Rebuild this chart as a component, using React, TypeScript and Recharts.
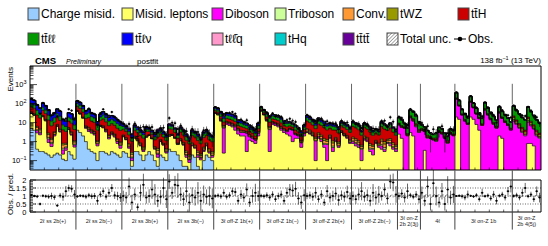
import React from 'react';
import { ComposedChart, Area, Scatter, ErrorBar, XAxis, YAxis, ReferenceLine, ReferenceArea } from 'recharts';

const FONT = '"Liberation Sans", Arial, Helvetica, sans-serif';

const regionLabels = [
  '2ℓ ss 2b(+)', '2ℓ ss 2b(−)', '2ℓ ss 3b(+)', '2ℓ ss 3b(−)',
  '3ℓ off-Z 1b(+)', '3ℓ off-Z 1b(−)', '3ℓ off-Z 2b(+)', '3ℓ off-Z 2b(−)',
  '3ℓ on-Z\n2b 2(3j)', '4ℓ', '3ℓ on-Z 1b', '3ℓ on-Z\n2b 4(5j)',
];
const regionBins = [16, 16, 16, 16, 16, 16, 16, 16, 8, 12, 20, 10];
const relUnc = [0.05, 0.06, 0.1, 0.1, 0.06, 0.07, 0.08, 0.09, 0.1, 0.12, 0.05, 0.07];

// expected events per bin, one line per region
const chargeMisid = [
  5, 4, 0.4, 0.3, 0.3, 0.25, 0.2, 0.15, 0.2, 0.25, 0.2, 0.12, 0.1, 0.3, 0.2, 0.12,
  4, 3, 2, 1, 0.4, 0.3, 0.25, 0.1, 0.3, 0.3, 0.25, 0.2, 0.3, 0.25, 0.2, 0.15,
  0.3, 0.25, 0.15, 0.05, 0.3, 0.3, 0.2, 0.1, 0.2, 0.3, 0.2, 0.1, 0.05, 0.2, 0.15, 0.1,
  0.4, 0.3, 0.3, 0.2, 0.1, 0.05, 0.05, 0.03, 0.2, 0.15, 0.05, 0.03, 0.1, 0.2, 0.15, 0.1,
  0, 0, 0, 0, 0, 0, 0, 0, 0, 0, 0, 0, 0, 0, 0, 0,
  0, 0, 0, 0, 0, 0, 0, 0, 0, 0, 0, 0, 0, 0, 0, 0,
  0, 0, 0, 0, 0, 0, 0, 0, 0, 0, 0, 0, 0, 0, 0, 0,
  0, 0, 0, 0, 0, 0, 0, 0, 0, 0, 0, 0, 0, 0, 0, 0,
  0, 0, 0, 0, 0, 0, 0, 0,
  0, 0, 0, 0, 0, 0, 0, 0, 0, 0, 0, 0,
  0, 0, 0, 0, 0, 0, 0, 0, 0, 0, 0, 0, 0, 0, 0, 0, 0, 0, 0, 0,
  0, 0, 0, 0, 0, 0, 0, 0, 0, 0,
];
const misidLeptons = [
  25, 20, 2.5, 2, 20, 12, 0.7, 0.4, 1.8, 6, 3, 0.1, 0.25, 4, 2, 0.4,
  35, 25, 15, 4, 3, 2.5, 2, 0.5, 6, 5, 3, 1.2, 2, 1.5, 0.6, 0.3,
  1.5, 1, 0.3, 0.05, 1.2, 0.8, 0.4, 0.2, 1.5, 1.8, 1.2, 0.3, 0.1, 0.8, 0.5, 0.15,
  1.5, 1.8, 1.2, 0.5, 1, 0.6, 0.1, 0.05, 0.4, 0.3, 0.1, 0.08, 0.2, 0.4, 0.1, 0.05,
  30, 25, 12, 0.25, 8, 7, 6, 4, 2.5, 2, 2, 0.3, 1.2, 1, 0.8, 2,
  40, 25, 12, 0.3, 8, 7, 6, 4, 3, 2.5, 2, 1, 1.5, 1.5, 0.5, 2,
  3, 2.5, 2, 0.1, 1.5, 1, 0.5, 0.1, 1.5, 0.3, 1, 0.5, 3, 2, 1.5, 0.8,
  0.8, 0.6, 0.5, 0.1, 1.2, 1, 0.3, 0.2, 0.8, 0.5, 0.4, 0.3, 0.8, 0.6, 0.4, 0.3,
  2.5, 1.5, 0.03, 0.02, 3, 2, 0.03, 0.02,
  0.02, 0.35, 0.02, 0.02, 0.02, 0.02, 0.03, 0.02, 0.02, 0.02, 0.03, 0.02,
  20, 15, 0.03, 0.02, 0.02, 20, 15, 8, 4, 0.03, 0.02, 0.03, 0.02, 0.02, 0.03, 2, 1.5, 0.03, 0.02, 0.02,
  0.02, 0.02, 0.02, 0.02, 0.02, 0.8, 0.8, 0.6, 0.02, 0.02,
];
const diboson = [
  1.5, 1.3, 0.9, 0.6, 0.9, 0.7, 0.5, 0.24, 0.33, 0.5, 0.37, 0.15, 0.12, 0.31, 0.28, 0.15,
  1.7, 1.4, 0.95, 0.6, 0.76, 0.47, 0.4, 0.17, 0.35, 0.52, 0.4, 0.28, 0.34, 0.27, 0.21, 0.17,
  0.12, 0.1, 0.08, 0.04, 0.11, 0.09, 0.07, 0.06, 0.08, 0.06, 0.05, 0.04, 0.07, 0.08, 0.05, 0.04,
  0.12, 0.1, 0.07, 0.035, 0.09, 0.065, 0.043, 0.03, 0.066, 0.053, 0.043, 0.028, 0.056, 0.066, 0.041, 0.035,
  2, 2, 1.5, 5, 1.5, 1.5, 1.2, 2, 1.5, 1, 1, 2.5, 0.6, 0.5, 0.4, 0.8,
  2, 2, 1.5, 4, 1.5, 1.5, 1.2, 1, 1, 0.8, 2.5, 3, 0.8, 0.5, 0.4, 0.6,
  0.3, 0.3, 0.2, 1, 0.3, 0.3, 0.2, 0.6, 0.2, 0.2, 0.2, 0.1, 0.2, 0.2, 0.2, 0.1,
  0.2, 0.2, 0.15, 0.3, 0.2, 0.2, 0.1, 0.2, 0.1, 0.1, 0.2, 0.1, 0.1, 0.2, 0.1, 0.1,
  5, 4, 5, 2, 15, 10, 6, 3,
  4, 3, 1.5, 1.5, 1.2, 1, 3, 2.5, 1.5, 0.8, 2.5, 2,
  150, 60, 25, 12, 8, 100, 45, 20, 12, 7, 45, 25, 14, 8, 5, 30, 15, 10, 7, 4,
  12, 8, 5, 3, 2, 10, 6, 4, 2, 1.5,
];
const triboson = [
  0.75, 0.63, 0.44, 0.29, 0.45, 0.34, 0.25, 0.12, 0.17, 0.25, 0.19, 0.08, 0.06, 0.16, 0.14, 0.07,
  0.55, 0.46, 0.32, 0.2, 0.25, 0.16, 0.14, 0.06, 0.12, 0.17, 0.13, 0.09, 0.11, 0.09, 0.07, 0.06,
  0.04, 0.03, 0.03, 0.015, 0.04, 0.03, 0.02, 0.02, 0.03, 0.02, 0.015, 0.013, 0.024, 0.025, 0.017, 0.014,
  0.04, 0.035, 0.023, 0.012, 0.03, 0.022, 0.014, 0.01, 0.022, 0.018, 0.014, 0.01, 0.019, 0.022, 0.014, 0.012,
  0.76, 0.66, 0.53, 0.4, 0.51, 0.49, 0.46, 0.38, 0.22, 0.22, 0.18, 0.14, 0.12, 0.09, 0.06, 0.14,
  0.56, 0.46, 0.43, 0.41, 0.41, 0.39, 0.36, 0.3, 0.2, 0.17, 0.15, 0.12, 0.11, 0.08, 0.06, 0.11,
  0.22, 0.17, 0.13, 0.09, 0.16, 0.14, 0.11, 0.08, 0.08, 0.09, 0.07, 0.05, 0.09, 0.08, 0.06, 0.05,
  0.11, 0.09, 0.07, 0.04, 0.09, 0.07, 0.06, 0.04, 0.04, 0.03, 0.11, 0.09, 0.06, 0.09, 0.06, 0.04,
  0.36, 0.27, 0.13, 0.1, 0.92, 0.81, 0.52, 0.24,
  0.16, 0.12, 0.1, 0.06, 0.05, 0.08, 0.12, 0.1, 0.06, 0.05, 0.1, 0.08,
  6.5, 2.2, 0.77, 0.54, 0.32, 3.8, 1.4, 0.92, 0.51, 0.32, 2.1, 1.1, 0.63, 0.43, 0.26, 1.1, 0.69, 0.49, 0.33, 0.22,
  1.3, 0.68, 0.46, 0.32, 0.24, 1.1, 0.62, 0.38, 0.24, 0.16,
];
const conversions = [
  2.2, 1.9, 1.3, 0.9, 1.4, 1, 0.7, 0.36, 0.5, 0.7, 0.55, 0.22, 0.18, 0.46, 0.42, 0.22,
  1.7, 1.4, 0.95, 0.6, 0.76, 0.47, 0.4, 0.17, 0.35, 0.52, 0.4, 0.28, 0.34, 0.27, 0.21, 0.17,
  0.16, 0.14, 0.11, 0.06, 0.15, 0.12, 0.09, 0.07, 0.11, 0.08, 0.06, 0.05, 0.1, 0.1, 0.07, 0.06,
  0.16, 0.14, 0.09, 0.05, 0.12, 0.09, 0.06, 0.04, 0.09, 0.07, 0.06, 0.04, 0.07, 0.09, 0.06, 0.05,
  1.5, 1.3, 1.1, 0.8, 1, 0.98, 0.91, 0.76, 0.44, 0.44, 0.36, 0.29, 0.25, 0.18, 0.11, 0.29,
  1.1, 0.92, 0.86, 0.83, 0.82, 0.78, 0.71, 0.6, 0.4, 0.35, 0.3, 0.24, 0.23, 0.16, 0.12, 0.22,
  0.65, 0.52, 0.38, 0.27, 0.49, 0.41, 0.34, 0.25, 0.25, 0.26, 0.2, 0.16, 0.26, 0.23, 0.19, 0.15,
  0.33, 0.28, 0.22, 0.11, 0.26, 0.2, 0.17, 0.11, 0.12, 0.1, 0.34, 0.26, 0.18, 0.28, 0.17, 0.11,
  0.36, 0.27, 0.13, 0.1, 0.92, 0.81, 0.52, 0.24,
  0.08, 0.06, 0.05, 0.03, 0.025, 0.04, 0.06, 0.05, 0.03, 0.023, 0.05, 0.04,
  6.5, 2.2, 0.77, 0.54, 0.32, 3.8, 1.4, 0.92, 0.51, 0.32, 2.1, 1.1, 0.63, 0.43, 0.26, 1.1, 0.69, 0.49, 0.33, 0.22,
  1.3, 0.68, 0.46, 0.32, 0.24, 1.1, 0.62, 0.38, 0.24, 0.16,
];
const tWZ = [
  1.5, 1.3, 0.9, 0.6, 0.9, 0.7, 0.5, 0.24, 0.33, 0.5, 0.37, 0.15, 0.12, 0.31, 0.28, 0.15,
  1.1, 0.92, 0.63, 0.4, 0.5, 0.32, 0.27, 0.11, 0.24, 0.35, 0.27, 0.19, 0.23, 0.18, 0.14, 0.11,
  0.16, 0.14, 0.11, 0.06, 0.15, 0.12, 0.09, 0.07, 0.11, 0.08, 0.06, 0.05, 0.1, 0.1, 0.07, 0.06,
  0.16, 0.14, 0.09, 0.05, 0.12, 0.09, 0.06, 0.04, 0.09, 0.07, 0.06, 0.04, 0.07, 0.09, 0.06, 0.05,
  1.1, 1, 0.8, 0.6, 0.77, 0.74, 0.68, 0.57, 0.33, 0.33, 0.27, 0.22, 0.19, 0.14, 0.08, 0.22,
  0.84, 0.69, 0.65, 0.62, 0.62, 0.59, 0.53, 0.45, 0.3, 0.26, 0.23, 0.18, 0.17, 0.12, 0.09, 0.16,
  0.65, 0.52, 0.38, 0.27, 0.49, 0.41, 0.34, 0.25, 0.25, 0.26, 0.2, 0.16, 0.26, 0.23, 0.19, 0.15,
  0.33, 0.28, 0.22, 0.11, 0.26, 0.2, 0.17, 0.11, 0.12, 0.1, 0.34, 0.26, 0.18, 0.28, 0.17, 0.11,
  0.5, 0.4, 0.3, 0.2, 1.5, 1, 0.7, 0.4,
  0.31, 0.23, 0.2, 0.12, 0.1, 0.15, 0.23, 0.19, 0.12, 0.09, 0.19, 0.15,
  8, 3, 1.5, 1, 0.5, 5, 2.5, 1.5, 1, 0.5, 3, 1.5, 1, 0.6, 0.4, 2, 1, 0.7, 0.5, 0.3,
  4, 2.5, 1.5, 1, 0.8, 3.5, 2, 1.2, 0.8, 0.5,
];
const ttH = [
  33, 28, 19, 13, 20, 15, 11, 5.3, 7.2, 11, 8.4, 3.4, 2.6, 6.6, 6, 3.2,
  28, 23, 16, 10, 13, 7.8, 6.6, 2.9, 5.9, 9, 6.6, 4.7, 5.7, 4.6, 3.6, 2.9,
  2.2, 1.8, 1.5, 0.77, 2, 1.5, 1.2, 1, 1.4, 1.1, 0.84, 0.7, 1.3, 1.3, 0.91, 0.7,
  2.4, 2, 1.3, 0.68, 1.75, 1.26, 0.84, 0.57, 1.26, 1.05, 0.84, 0.55, 1.12, 1.26, 0.84, 0.69,
  7.7, 6.4, 5.2, 3.9, 5, 4.8, 4.5, 3.7, 2.2, 2.2, 1.75, 1.4, 1.2, 0.9, 0.55, 1.4,
  6.3, 5.2, 4.8, 4.6, 4.6, 4.3, 4, 3.4, 2.2, 2, 1.7, 1.3, 1.3, 0.9, 0.7, 1.2,
  7.6, 6, 4.5, 3.1, 5.7, 4.8, 4, 2.9, 2.9, 3, 2.4, 1.9, 3.1, 2.7, 2.2, 1.8,
  4.6, 3.9, 3.1, 1.5, 3.6, 2.9, 2.4, 1.5, 1.7, 1.4, 4.8, 3.6, 2.6, 3.9, 2.3, 1.5,
  0.72, 0.55, 0.25, 0.21, 1.8, 1.6, 1, 0.49,
  0.47, 0.35, 0.29, 0.17, 0.15, 0.23, 0.35, 0.29, 0.17, 0.14, 0.29, 0.23,
  11, 3.6, 1.3, 0.9, 0.53, 6.3, 2.4, 1.5, 0.85, 0.53, 3.5, 1.8, 1.1, 0.72, 0.43, 1.9, 1.2, 0.82, 0.55, 0.36,
  3.8, 2, 1.4, 0.95, 0.72, 3.3, 1.9, 1.2, 0.71, 0.47,
];
const ttll = [
  35, 29, 20, 13, 21, 16, 11, 5.5, 7.6, 11, 8.5, 3.5, 2.8, 7.1, 6.4, 3.3,
  31, 26, 18, 11, 14, 8.8, 7.6, 3.2, 6.6, 9.7, 7.5, 5.2, 6.4, 5.1, 4, 3.2,
  1.8, 1.5, 1.2, 0.64, 1.7, 1.3, 0.97, 0.81, 1.2, 0.86, 0.68, 0.57, 1.1, 1.1, 0.74, 0.6,
  2.1, 1.8, 1.2, 0.6, 1.5, 1.1, 0.74, 0.5, 1.1, 0.92, 0.74, 0.49, 0.96, 1.1, 0.72, 0.61,
  11, 9.9, 8, 5.9, 7.7, 7.4, 6.8, 5.7, 3.3, 3.3, 2.7, 2.2, 1.9, 1.4, 0.84, 2.2,
  9.2, 7.6, 7.1, 6.8, 6.8, 6.4, 5.9, 5, 3.3, 2.9, 2.5, 2, 1.9, 1.3, 1, 1.8,
  6.1, 4.8, 3.6, 2.5, 4.5, 3.8, 3.2, 2.3, 2.3, 2.4, 1.9, 1.5, 2.5, 2.2, 1.8, 1.4,
  3.3, 2.8, 2.2, 1.1, 2.6, 2, 1.7, 1.1, 1.2, 1, 3.4, 2.6, 1.8, 2.8, 1.7, 1.1,
  8.4, 6.4, 2.9, 2.5, 21, 19, 12, 5.7,
  2.3, 1.7, 1.5, 0.87, 0.75, 1.1, 1.7, 1.4, 0.87, 0.69, 1.4, 1.1,
  156, 52, 18, 13, 7.6, 90, 34, 22, 12, 7.6, 50, 26, 15, 10, 6.2, 27, 17, 12, 7.9, 5.2,
  50, 27, 18, 12, 9.4, 43, 24, 15, 9.3, 6.1,
];
const ttlnu = [
  70, 59, 41, 27, 42, 31, 22, 11, 15, 22, 17, 7, 5.6, 14, 13, 6.7,
  38, 32, 22, 14, 18, 11, 9.4, 4, 8.3, 12, 9.4, 6.6, 8, 6.4, 5, 4,
  1.8, 1.5, 1.2, 0.64, 1.7, 1.3, 0.97, 0.81, 1.2, 0.86, 0.68, 0.57, 1.1, 1.1, 0.74, 0.6,
  1.3, 1.1, 0.72, 0.37, 0.94, 0.7, 0.46, 0.31, 0.7, 0.57, 0.46, 0.3, 0.59, 0.7, 0.44, 0.38,
  9.5, 8.3, 6.6, 4.9, 6.4, 6.1, 5.7, 4.8, 2.8, 2.8, 2.3, 1.8, 1.6, 1.1, 0.7, 1.8,
  4.8, 3.9, 3.7, 3.5, 3.5, 3.3, 3, 2.6, 1.7, 1.5, 1.3, 1, 0.97, 0.68, 0.53, 0.92,
  4.8, 3.8, 2.8, 2, 3.6, 3, 2.5, 1.8, 1.8, 1.9, 1.5, 1.2, 1.9, 1.7, 1.4, 1.1,
  1.3, 1.1, 0.88, 0.43, 1, 0.82, 0.67, 0.43, 0.49, 0.41, 1.4, 1, 0.73, 1.1, 0.66, 0.43,
  0.6, 0.46, 0.21, 0.18, 1.5, 1.4, 0.87, 0.41,
  0.16, 0.12, 0.1, 0.06, 0.05, 0.08, 0.12, 0.1, 0.06, 0.05, 0.1, 0.08,
  11, 3.6, 1.3, 0.9, 0.53, 6.3, 2.4, 1.5, 0.85, 0.53, 3.5, 1.8, 1.1, 0.72, 0.43, 1.9, 1.2, 0.82, 0.55, 0.36,
  2.5, 1.4, 0.93, 0.63, 0.48, 2.2, 1.2, 0.77, 0.48, 0.31,
];
const tllq = [
  0.75, 0.63, 0.44, 0.29, 0.45, 0.34, 0.25, 0.12, 0.17, 0.25, 0.19, 0.08, 0.06, 0.16, 0.14, 0.07,
  0.55, 0.46, 0.32, 0.2, 0.25, 0.16, 0.14, 0.06, 0.12, 0.17, 0.13, 0.09, 0.11, 0.09, 0.07, 0.06,
  0.04, 0.03, 0.03, 0.015, 0.04, 0.03, 0.02, 0.02, 0.03, 0.02, 0.015, 0.013, 0.024, 0.025, 0.017, 0.014,
  0.04, 0.035, 0.023, 0.012, 0.03, 0.022, 0.014, 0.01, 0.022, 0.018, 0.014, 0.01, 0.019, 0.022, 0.014, 0.012,
  1.9, 1.7, 1.3, 1, 1.3, 1.2, 1.1, 0.95, 0.55, 0.55, 0.45, 0.36, 0.31, 0.23, 0.14, 0.36,
  1.7, 1.4, 1.3, 1.2, 1.2, 1.2, 1.1, 0.9, 0.6, 0.52, 0.45, 0.36, 0.34, 0.24, 0.19, 0.32,
  0.43, 0.34, 0.26, 0.18, 0.32, 0.27, 0.23, 0.17, 0.17, 0.17, 0.14, 0.11, 0.18, 0.16, 0.13, 0.1,
  0.22, 0.18, 0.15, 0.07, 0.17, 0.14, 0.11, 0.07, 0.08, 0.07, 0.23, 0.17, 0.12, 0.18, 0.11, 0.07,
  0.96, 0.73, 0.34, 0.28, 2.4, 2.2, 1.4, 0.65,
  0.16, 0.12, 0.1, 0.06, 0.05, 0.08, 0.12, 0.1, 0.06, 0.05, 0.1, 0.08,
  17, 5.8, 2, 1.4, 0.84, 10, 3.8, 2.4, 1.4, 0.84, 5.6, 2.8, 1.7, 1.2, 0.69, 3, 1.8, 1.3, 0.88, 0.58,
  2.5, 1.4, 0.93, 0.63, 0.48, 2.2, 1.2, 0.77, 0.48, 0.31,
];
const tHq = [
  0.75, 0.63, 0.44, 0.29, 0.45, 0.34, 0.25, 0.12, 0.17, 0.25, 0.19, 0.08, 0.06, 0.16, 0.14, 0.07,
  0.55, 0.46, 0.32, 0.2, 0.25, 0.16, 0.14, 0.06, 0.12, 0.17, 0.13, 0.09, 0.11, 0.09, 0.07, 0.06,
  0.04, 0.03, 0.03, 0.015, 0.04, 0.03, 0.02, 0.02, 0.03, 0.02, 0.015, 0.013, 0.024, 0.025, 0.017, 0.014,
  0.04, 0.035, 0.023, 0.012, 0.03, 0.022, 0.014, 0.01, 0.022, 0.018, 0.014, 0.01, 0.019, 0.022, 0.014, 0.012,
  0.38, 0.33, 0.27, 0.2, 0.26, 0.25, 0.23, 0.19, 0.11, 0.11, 0.09, 0.07, 0.06, 0.05, 0.03, 0.07,
  0.28, 0.23, 0.22, 0.21, 0.21, 0.2, 0.18, 0.15, 0.1, 0.09, 0.08, 0.06, 0.06, 0.04, 0.03, 0.05,
  0.22, 0.17, 0.13, 0.09, 0.16, 0.14, 0.11, 0.08, 0.08, 0.09, 0.07, 0.05, 0.09, 0.08, 0.06, 0.05,
  0.11, 0.09, 0.07, 0.04, 0.09, 0.07, 0.06, 0.04, 0.04, 0.03, 0.11, 0.09, 0.06, 0.09, 0.06, 0.04,
  0.24, 0.18, 0.08, 0.07, 0.61, 0.54, 0.35, 0.16,
  0.08, 0.06, 0.05, 0.03, 0.025, 0.04, 0.06, 0.05, 0.03, 0.023, 0.05, 0.04,
  4.3, 1.4, 0.51, 0.36, 0.21, 2.5, 0.95, 0.61, 0.34, 0.21, 1.4, 0.71, 0.42, 0.29, 0.17, 0.76, 0.46, 0.33, 0.22, 0.14,
  0.64, 0.34, 0.23, 0.16, 0.12, 0.56, 0.31, 0.19, 0.12, 0.08,
];
const tttt = [
  2.2, 1.9, 1.3, 0.9, 1.4, 1, 0.7, 0.36, 0.5, 0.7, 0.55, 0.22, 0.18, 0.46, 0.42, 0.22,
  1.7, 1.4, 0.95, 0.6, 0.76, 0.47, 0.4, 0.17, 0.35, 0.52, 0.4, 0.28, 0.34, 0.27, 0.21, 0.17,
  0.82, 0.68, 0.56, 0.29, 0.75, 0.59, 0.44, 0.37, 0.53, 0.39, 0.31, 0.26, 0.49, 0.5, 0.34, 0.28,
  0.81, 0.69, 0.45, 0.23, 0.59, 0.44, 0.29, 0.19, 0.44, 0.36, 0.29, 0.19, 0.37, 0.44, 0.28, 0.24,
  0.76, 0.66, 0.53, 0.4, 0.51, 0.49, 0.46, 0.38, 0.22, 0.22, 0.18, 0.14, 0.12, 0.09, 0.06, 0.14,
  0.56, 0.46, 0.43, 0.41, 0.41, 0.39, 0.36, 0.3, 0.2, 0.17, 0.15, 0.12, 0.11, 0.08, 0.06, 0.11,
  1.1, 0.86, 0.64, 0.45, 0.81, 0.69, 0.57, 0.42, 0.42, 0.43, 0.34, 0.27, 0.44, 0.39, 0.32, 0.26,
  0.66, 0.55, 0.44, 0.22, 0.52, 0.41, 0.34, 0.22, 0.25, 0.2, 0.68, 0.52, 0.37, 0.55, 0.33, 0.22,
  0.36, 0.27, 0.13, 0.1, 0.92, 0.81, 0.52, 0.24,
  0.16, 0.12, 0.1, 0.06, 0.05, 0.08, 0.12, 0.1, 0.06, 0.05, 0.1, 0.08,
  4.3, 1.4, 0.51, 0.36, 0.21, 2.5, 0.95, 0.61, 0.34, 0.21, 1.4, 0.71, 0.42, 0.29, 0.17, 0.76, 0.46, 0.33, 0.22, 0.14,
  1.9, 1, 0.7, 0.47, 0.36, 1.7, 0.94, 0.58, 0.36, 0.23,
];

// observed / predicted
const ratio = [
  1.05, 1.0, 0.97, 0.5, 1.02, 0.98, 0.96, 1.0, 0.92, 0.4, 1.03, 0.95, 1.3, 1.5, 1.45, 1.1,
  0.97, 1.02, 1.0, 0.95, 1.05, 0.98, 1.0, 0.7, 1.1, 1.3, 0.95, 1.2, 1.5, 1.05, 1.0, 0.9,
  1.0, 0.9, 1.6, 0.6, 1.1, 0.3, 1.2, 1.7, 0.9, 1.0, 1.4, 1.1, 0.7, 0.95, 1.5, 0.8,
  1.9, 1.2, 1.7, 1.65, 1.1, 0.8, 1.3, 0.6, 1.05, 0.9, 1.2, 0.7, 1.1, 0.95, 1.0, 0.85,
  1.0, 1.03, 0.97, 1.2, 0.95, 1.05, 1.3, 1.25, 0.7, 1.1, 0.9, 1.4, 0.6, 1.0, 1.2, 1.0,
  1.02, 0.98, 1.05, 0.9, 1.1, 0.8, 1.0, 1.1, 0.7, 1.2, 1.4, 1.35, 1.45, 0.85, 0.6, 1.05,
  1.0, 1.05, 0.95, 1.2, 0.8, 1.1, 0.6, 1.3, 0.9, 1.0, 1.15, 0.75, 1.05, 0.95, 1.25, 0.85,
  1.0, 0.8, 1.1, 1.3, 0.95, 1.05, 0.7, 1.2, 0.9, 1.1, 1.0, 1.4, 0.85, 1.9, 1.85, 1.1,
  1.0, 1.15, 0.9, 1.3, 1.05, 0.95, 1.1, 0.8,
  1.2, 0.7, 1.6, 0.5, 1.8, 1.0, 0.6, 1.3, 0.5, 1.4, 0.9, 1.1,
  1.0, 1.02, 0.98, 0.9, 1.1, 1.01, 0.97, 1.05, 0.8, 1.2, 0.99, 1.03, 0.85, 1.1, 0.7, 1.02, 1.1, 0.9, 1.3, 1.6,
  1.0, 1.05, 0.9, 1.2, 1.5, 0.98, 1.1, 0.8, 1.3, 0.9,
];

const stack = [
  { key: 'chargeMisid', name: 'Charge misid.', color: '#99ccff', values: chargeMisid },
  { key: 'misidLeptons', name: 'Misid. leptons', color: '#ffff66', values: misidLeptons },
  { key: 'diboson', name: 'Diboson', color: '#ff00ff', values: diboson },
  { key: 'triboson', name: 'Triboson', color: '#ccff99', values: triboson },
  { key: 'conversions', name: 'Conv.', color: '#ff9933', values: conversions },
  { key: 'tWZ', name: 'tWZ', color: '#999900', values: tWZ },
  { key: 'ttH', name: 'tt\u0304H', color: '#cc0000', values: ttH },
  { key: 'ttll', name: 'tt\u0304\u2113\u2113', color: '#009900', values: ttll },
  { key: 'ttlnu', name: 'tt\u0304\u2113\u03bd', color: '#0000ff', values: ttlnu },
  { key: 'tllq', name: 't\u2113\u2113\u0304q', color: '#ff99cc', values: tllq },
  { key: 'tHq', name: 'tHq', color: '#00cccc', values: tHq },
  { key: 'tttt', name: 'tt\u0304tt\u0304', color: '#660099', values: tttt },
];

const Y_MIN = 0.032;
const Y_MAX = 9500;
const nBins = regionBins.reduce((a, b) => a + b, 0);
const edges = regionBins.reduce((acc, n) => [...acc, acc[acc.length - 1] + n], [0]);
const innerEdges = edges.slice(1, -1);
const regionCenters = regionBins.map((n, r) => edges[r] + n / 2);
const regionOf = regionBins.flatMap((n, r) => Array(n).fill(r) as number[]);

// stacked table, one extra row so the last step closes
const rows = Array.from({ length: nBins + 1 }, (_, i) => {
  const b = Math.min(i, nBins - 1);
  const row: any = { x: i };
  let c = 1e-4;
  stack.forEach((s) => {
    const v = s.values[b] ?? 0;
    row[s.key] = [c, c + v];
    c += v;
  });
  const u = relUnc[regionOf[b]];
  row.total = c;
  row.unc = [c * (1 - u), c * (1 + u)];
  row.ratioUnc = [1 - u, 1 + u];
  return row;
});

const points = ratio.map((r, i) => {
  const pred = rows[i].total;
  const obs = r * pred;
  const e = Math.sqrt(Math.max(obs, 1));
  return { x: i + 0.5, obs, obsErr: [Math.min(e, obs * 0.9), e], y: r, err: e / pred };
});

const eventTicks: number[] = [];
for (let d = -2; d <= 3; d++) {
  for (let m = 1; m <= 9; m++) {
    const v = m * Math.pow(10, d);
    if (v >= Y_MIN && v <= Y_MAX) eventTicks.push(v);
  }
}
const ratioTicks = Array.from({ length: 21 }, (_, k) => k / 10);
const binTicks = Array.from({ length: Math.floor(nBins / 5) }, (_, k) => (k + 1) * 5);

const EventTick = (props: any) => {
  const { x, y, payload } = props;
  const ax = x + 4;
  const lg = Math.log10(payload.value);
  const e = Math.round(lg);
  const major = Math.abs(lg - e) < 1e-6;
  return (
    <g>
      <line x1={ax} x2={ax + (major ? 7 : 3.5)} y1={y} y2={y} stroke="#000" strokeWidth={0.7} />
      {major && (
        <text x={ax - 3.5} y={y + 2.6} textAnchor="end" fontSize={7.5} fontFamily={FONT} fill="#000">
          {e === 0 ? '1' : e === 1 ? '10' : (
            <>10<tspan dy={-3} fontSize={5.5}>{String(e).replace('-', '\u2212')}</tspan></>
          )}
        </text>
      )}
    </g>
  );
};

const RatioTick = (props: any) => {
  const { x, y, payload } = props;
  const ax = x + 4;
  const v = payload.value;
  const major = Math.abs(v * 2 - Math.round(v * 2)) < 1e-6;
  return (
    <g>
      <line x1={ax} x2={ax + (major ? 6 : 3)} y1={y} y2={y} stroke="#000" strokeWidth={0.7} />
      {major && (
        <text x={ax - 3.5} y={y + 2.7} textAnchor="end" fontSize={7.5} fontFamily={FONT} fill="#000">
          {String(v)}
        </text>
      )}
    </g>
  );
};

const BinTick = (props: any) => (
  <line x1={props.x} x2={props.x} y1={props.y} y2={props.y - 2.5} stroke="#000" strokeWidth={0.6} />
);

const RegionTick = (props: any) => {
  const { x, y, payload } = props;
  const idx = regionCenters.findIndex((c) => Math.abs(c - payload.value) < 1e-6);
  const lines = (regionLabels[idx] ?? '').split('\n');
  return (
    <text x={x} y={lines.length > 1 ? y + 6.5 : y + 10} textAnchor="middle" fontSize={5.5} fontFamily={FONT} fill="#222">
      {lines.map((l, k) => (
        <tspan key={k} x={x} dy={k ? 6.5 : 0}>{l}</tspan>
      ))}
    </text>
  );
};

const ObsDot = (props: any) => {
  const { cx, cy } = props;
  if (!isFinite(cx) || !isFinite(cy)) return <g />;
  return (
    <g>
      <line x1={cx - 1.4} x2={cx + 1.4} y1={cy} y2={cy} stroke="#000" strokeWidth={0.6} />
      <circle cx={cx} cy={cy} r={1} fill="#000" />
    </g>
  );
};

const legendCols = [28, 122, 212, 275, 343, 387, 458];
const legendRows = [8, 33];

const App = () => {
  return (
    <div style={{ position: 'absolute', left: 0, top: 0, width: 548, height: 246, background: '#fff', fontFamily: FONT }}>
      <div style={{ position: 'absolute', left: 0, top: 0 }}>
        <ComposedChart width={548} height={172} data={rows} margin={{ top: 66, right: 7, bottom: 1, left: 0 }}>
          <defs>
            <pattern id="hatchTop" width="3" height="3" patternUnits="userSpaceOnUse" patternTransform="rotate(45)">
              <line x1="0" y1="0" x2="0" y2="3" stroke="#555" strokeWidth="1" />
            </pattern>
          </defs>
          <XAxis type="number" dataKey="x" domain={[0, nBins]} ticks={binTicks} interval={0} height={1} tickSize={0} tickMargin={0} axisLine={false} tick={BinTick} allowDataOverflow />
          <YAxis type="number" scale="log" domain={[Y_MIN, Y_MAX]} ticks={eventTicks} interval={0} width={30} tickSize={0} tickMargin={4} axisLine={false} tick={EventTick} allowDataOverflow />
          {stack.map((s) => (
            <Area key={s.key} dataKey={s.key} type="stepAfter" fill={s.color} fillOpacity={1} stroke="#000" strokeWidth={0.5} dot={false} activeDot={false} isAnimationActive={false} />
          ))}
          <Area dataKey="unc" type="stepAfter" fill="url(#hatchTop)" fillOpacity={1} stroke="none" dot={false} activeDot={false} isAnimationActive={false} />
          {innerEdges.map((e) => (
            <ReferenceLine
              key={e}
              segment={[{ x: e, y: 1100 }, { x: e, y: Math.max(rows[e - 1].total, rows[e].total) * 1.1 }]}
              stroke="#666"
              strokeWidth={1}
            />
          ))}
          <Scatter data={points} dataKey="obs" shape={ObsDot} isAnimationActive={false}>
            <ErrorBar dataKey="obsErr" direction="y" width={0} stroke="#000" strokeWidth={0.6} />
          </Scatter>
          <ReferenceArea x1={0} x2={nBins} y1={Y_MIN} y2={Y_MAX} fill="none" stroke="#000" strokeWidth={1} />
        </ComposedChart>
      </div>

      <div style={{ position: 'absolute', left: 0, top: 170 }}>
        <ComposedChart width={548} height={76} data={rows} margin={{ top: 10, right: 7, bottom: 0, left: 0 }}>
          <defs>
            <pattern id="hatchRatio" width="3" height="3" patternUnits="userSpaceOnUse" patternTransform="rotate(45)">
              <line x1="0" y1="0" x2="0" y2="3" stroke="#555" strokeWidth="1" />
            </pattern>
          </defs>
          <XAxis type="number" dataKey="x" domain={[0, nBins]} ticks={binTicks} interval={0} height={1} tickSize={0} tickMargin={0} axisLine={false} tick={BinTick} allowDataOverflow />
          <XAxis xAxisId="lab" type="number" dataKey="x" domain={[0, nBins]} ticks={regionCenters} interval={0} height={33} tickSize={0} tickMargin={0} axisLine={false} tick={RegionTick} />
          <YAxis type="number" domain={[0, 2]} ticks={ratioTicks} interval={0} width={30} tickSize={0} tickMargin={4} axisLine={false} tick={RatioTick} allowDataOverflow />
          <Area dataKey="ratioUnc" type="stepAfter" fill="url(#hatchRatio)" fillOpacity={1} stroke="none" dot={false} activeDot={false} isAnimationActive={false} />
          {[0.5, 1, 1.5].map((v) => (
            <ReferenceLine key={v} y={v} stroke="#000" strokeWidth={0.6} strokeDasharray="1 1.5" />
          ))}
          {innerEdges.map((e) => (
            <ReferenceLine key={e} segment={[{ x: e, y: -1.1 }, { x: e, y: 2.6 }]} ifOverflow="visible" stroke="#444" strokeWidth={1} />
          ))}
          <Scatter data={points} dataKey="y" shape={ObsDot} isAnimationActive={false}>
            <ErrorBar dataKey="err" direction="y" width={0} stroke="#000" strokeWidth={0.6} />
          </Scatter>
          <ReferenceArea x1={0} x2={nBins} y1={0} y2={2} fill="none" stroke="#000" strokeWidth={1} />
        </ComposedChart>
      </div>

      <svg width={548} height={246} style={{ position: 'absolute', left: 0, top: 0, pointerEvents: 'none' }}>
        <defs>
          <pattern id="hatchLegend" width="2.5" height="2.5" patternUnits="userSpaceOnUse" patternTransform="rotate(45)">
            <line x1="0" y1="0" x2="0" y2="2.5" stroke="#555" strokeWidth="1" />
          </pattern>
        </defs>
        {stack.map((s, k) => {
          const x = legendCols[k % 7];
          const y = legendRows[Math.floor(k / 7)];
          return (
            <g key={s.key}>
              <rect x={x} y={y} width={11} height={12} fill={s.color} stroke="#444" strokeWidth={1} />
              <text x={x + 13} y={y + 10} fontSize={12} fontFamily={FONT} fill="#000">{s.name}</text>
            </g>
          );
        })}
        <rect x={legendCols[5]} y={legendRows[1]} width={11} height={12} fill="url(#hatchLegend)" stroke="#444" strokeWidth={1} />
        <text x={legendCols[5] + 13} y={legendRows[1] + 10} fontSize={12} fontFamily={FONT}>Total unc.</text>
        <line x1={legendCols[6] - 4} x2={legendCols[6] + 8} y1={legendRows[1] + 6} y2={legendRows[1] + 6} stroke="#000" strokeWidth={1} />
        <circle cx={legendCols[6] + 2} cy={legendRows[1] + 6} r={2.3} fill="#000" />
        <text x={legendCols[6] + 10} y={legendRows[1] + 10} fontSize={12} fontFamily={FONT}>Obs.</text>

        <text x={35} y={64} fontSize={9.5} fontWeight="bold" fontFamily={FONT}>CMS</text>
        <text x={66} y={64} fontSize={7} fontStyle="italic" fontFamily={FONT}>Preliminary</text>
        <text x={137} y={64} fontSize={8} fontFamily={FONT}>postfit</text>
        <text x={541} y={63} fontSize={8} textAnchor="end" fontFamily={FONT}>
          138 fb<tspan dy={-3} fontSize={5.5}>{'\u22121'}</tspan><tspan dy={3}> (13 TeV)</tspan>
        </text>
        <text x={13} y={67} fontSize={8} textAnchor="end" fontFamily={FONT} transform="rotate(-90 13 67)">Events</text>
        <text x={13} y={194} fontSize={8} textAnchor="middle" fontFamily={FONT} transform="rotate(-90 13 194)">Obs. / pred.</text>
      </svg>
    </div>
  );
};

export default App;
